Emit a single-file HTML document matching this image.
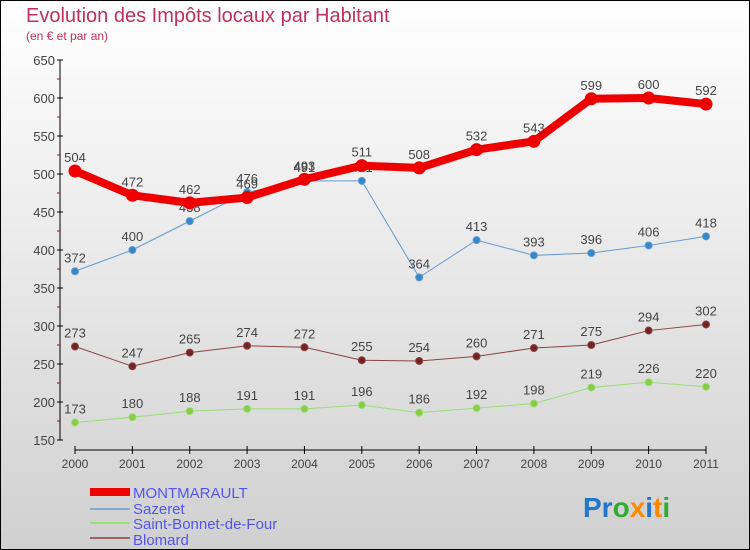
<!DOCTYPE html>
<html><head><meta charset="utf-8"><style>
body{margin:0}
#c{width:750px;height:550px;position:relative;overflow:hidden}
svg{font-family:"Liberation Sans",sans-serif}
</style></head><body>
<div id="c">
<svg id="s" width="750" height="550" xmlns="http://www.w3.org/2000/svg">
<defs><linearGradient id="bg" x1="0" y1="0" x2="0" y2="1"><stop offset="0" stop-color="#ffffff"/><stop offset="1" stop-color="#d0d0d0"/></linearGradient></defs>
<rect x="0.5" y="0.5" width="749" height="549" fill="url(#bg)" stroke="#000"/>
<text x="26" y="22" font-size="20" fill="#c0305a">Evolution des Impôts locaux par Habitant</text>
<text x="26" y="40" font-size="12" fill="#c0305a">(en € et par an)</text>
<g id="axes"></g><g id="series"></g>
<g>
<rect x="90" y="488" width="40" height="8" fill="#ee0000"/>
<text x="133" y="498" font-size="15" fill="#5555ee">MONTMARAULT</text>
<rect x="90" y="508" width="40" height="2" fill="#80aad0"/>
<text x="133" y="514" font-size="15" fill="#5555ee">Sazeret</text>
<rect x="90" y="522" width="40" height="2" fill="#99dd77"/>
<text x="133" y="529" font-size="15" fill="#5555ee">Saint-Bonnet-de-Four</text>
<rect x="90" y="537" width="40" height="2" fill="#996666"/>
<text x="133" y="545" font-size="15" fill="#5555ee">Blomard</text>
</g>
<text x="583" y="517" font-size="28" font-weight="bold"><tspan fill="#2277cc">Pr</tspan><tspan fill="#33aa33">o</tspan><tspan fill="#ff8800">x</tspan><tspan fill="#2277cc">i</tspan><tspan fill="#ff8800">t</tspan><tspan fill="#33aa33">i</tspan></text>
</svg></div>
<script>
const years=[2000,2001,2002,2003,2004,2005,2006,2007,2008,2009,2010,2011];
const yTicks=[150,200,250,300,350,400,450,500,550,600,650];
const montmarault=[504,472,462,469,493,511,508,532,543,599,600,592];
const sazeret=[372,400,438,476,491,491,364,413,393,396,406,418];
const saintBonnet=[173,180,188,191,191,196,186,192,198,219,226,220];
const blomard=[273,247,265,274,272,255,254,260,271,275,294,302];
const NS="http://www.w3.org/2000/svg";
const X=i=>75+i*(706-75)/(years.length-1);
const Y=v=>440-(v-150)*380/500;
function mk(t,a,p){const e=document.createElementNS(NS,t);for(const k in a)e.setAttribute(k,a[k]);p.appendChild(e);return e;}
const ax=document.getElementById('axes'),sg=document.getElementById('series');
let l=mk('line',{x1:60,y1:60,x2:60,y2:440,stroke:'#000'},ax);

l=mk('line',{x1:75,y1:450,x2:706,y2:450,stroke:'#000'},ax);

yTicks.forEach((v,i)=>{mk('line',{x1:57,y1:Y(v),x2:63,y2:Y(v),stroke:'#000'},ax);
 if(i<yTicks.length-1)mk('line',{x1:57,y1:Y(v+25),x2:60,y2:Y(v+25),stroke:'#c00'},ax);
 const t=mk('text',{x:55,y:Y(v)+5,'font-size':13,fill:'#444','text-anchor':'end'},ax);t.textContent=v;
 });
years.forEach((y,i)=>{mk('line',{x1:X(i),y1:446,x2:X(i),y2:454,stroke:'#000'},ax);
 const t=mk('text',{x:X(i),y:468,'font-size':12,fill:'#444','text-anchor':'middle'},ax);t.textContent=y;
 });
function draw(data,name,col,dot,w,r){
 const g=mk('g',{},sg);
 const p=mk('polyline',{points:data.map((v,i)=>X(i)+','+Y(v)).join(' '),fill:'none',stroke:col,'stroke-width':w,'stroke-linejoin':'round'},g);
 
 data.forEach((v,i)=>{const c=mk('circle',{cx:X(i),cy:Y(v),r:r,fill:dot,stroke:col,'stroke-width':1},g);
  
  const t=mk('text',{x:X(i),y:Y(v)-9,'font-size':13,fill:'#444','text-anchor':'middle'},g);t.textContent=v;
  });
}
draw(saintBonnet,'saint-bonnet','#99dd77','#88cc44',1,3.5);
draw(blomard,'blomard','#884444','#772222',1,3.5);
draw(sazeret,'sazeret','#6699cc','#3388cc',1,3.5);
draw(montmarault,'montmarault','#ee0000','#ee0000',8,6);
</script>
</body></html>
